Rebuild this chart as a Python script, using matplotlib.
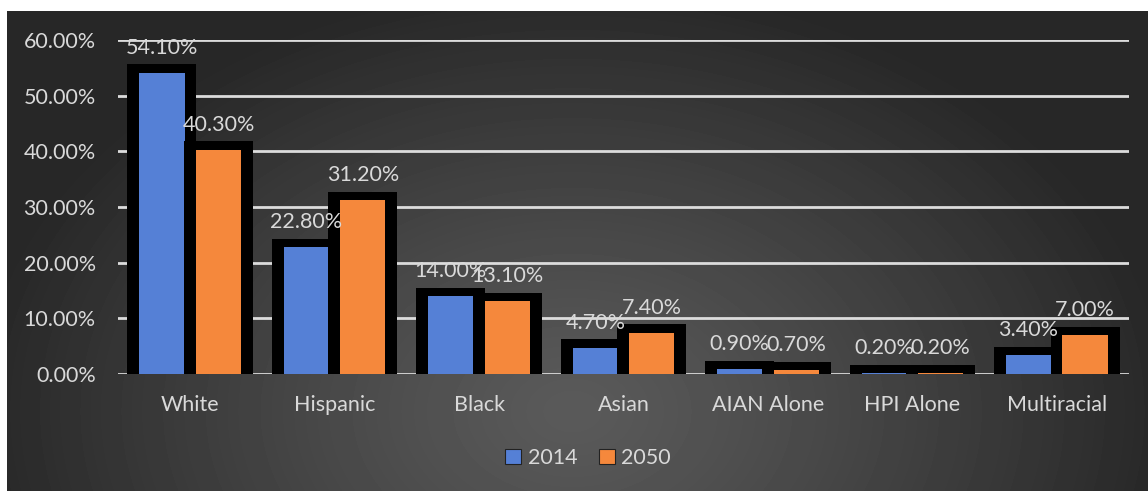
import matplotlib.pyplot as plt
import matplotlib.patches as mpatches
import numpy as np

groups = ['White', 'Hispanic', 'Black', 'Asian', 'AIAN Alone', 'HPI Alone', 'Multiracial']
share_2014 = [54.1, 22.8, 14.0, 4.7, 0.9, 0.2, 3.4]
share_2050 = [40.3, 31.2, 13.1, 7.4, 0.7, 0.2, 7.0]
series = ['2014', '2050']
colors = ['#5580d6', '#f5883c']

txt = '#d9d9d9'
plt.rcParams['font.family'] = ['Lato', 'DejaVu Sans']

W, H = 1148, 491
fig = plt.figure(figsize=(W / 100, H / 100), dpi=100, facecolor='white')

# dark radial backdrop
bg = fig.add_axes([7 / W, 0, 1 - 7 / W, 480 / H])
bg.set_axis_off()
yy, xx = np.mgrid[0:480, 0:1141]
r = np.sqrt(((xx - 565) / 600.0) ** 2 + ((yy - 400) / 430.0) ** 2)
r = np.clip(r, 0, 1)
shade = (0x5a - (0x5a - 0x27) * r ** 1.2) / 255.0
bg.imshow(shade, cmap='gray', vmin=0, vmax=1, aspect='auto', interpolation='bilinear')

ax = fig.add_axes([118 / W, (H - 374) / H, (1129 - 118) / W, (374 - 40) / H])
ax.patch.set_alpha(0)

x = np.arange(len(groups))
off = 0.1955
bar_w = 0.312
box_w = 0.478
pad = 1.5

for k, (vals, col) in enumerate(zip([share_2014, share_2050], colors)):
    pos = x + (2 * k - 1) * off
    base_z = 2 + 2 * k
    ax.bar(pos, np.array(vals) + pad, width=box_w, color='black', zorder=base_z)
    ax.bar(pos, vals, width=bar_w, color=col, zorder=base_z + 1, label=series[k])
    for p, v in zip(pos, vals):
        ax.annotate(f'{v:.2f}%', (p, v), xytext=(0, 18), textcoords='offset points',
                    ha='center', va='center', color=txt, fontsize=15.5, zorder=7)

ax.set_xlim(-0.5, len(groups) - 0.5)
ax.set_ylim(0, 60)
ax.set_yticks(range(0, 61, 10))
ax.set_yticklabels([f'{t:.2f}%' for t in range(0, 61, 10)])
ax.set_xticks(x)
ax.set_xticklabels(groups)
ax.tick_params(length=0, colors=txt, labelsize=15.5)
ax.tick_params(axis='y', pad=16)
ax.tick_params(axis='x', pad=15)
ax.grid(axis='y', color='#dcdcdc', linewidth=2)
ax.set_axisbelow(True)
for s in ax.spines.values():
    s.set_visible(False)

handles = [mpatches.Patch(facecolor=c, edgecolor='#222222', linewidth=0.8) for c in colors]
leg = fig.legend(handles, series, loc='center', bbox_to_anchor=(588 / W, 1 - 458 / H),
                 ncol=2, frameon=False, fontsize=15.5, handlelength=0.75, handleheight=0.75,
                 handletextpad=0.3, columnspacing=1.0, labelcolor=txt)

fig.savefig('out.png', dpi=100, facecolor='white')
